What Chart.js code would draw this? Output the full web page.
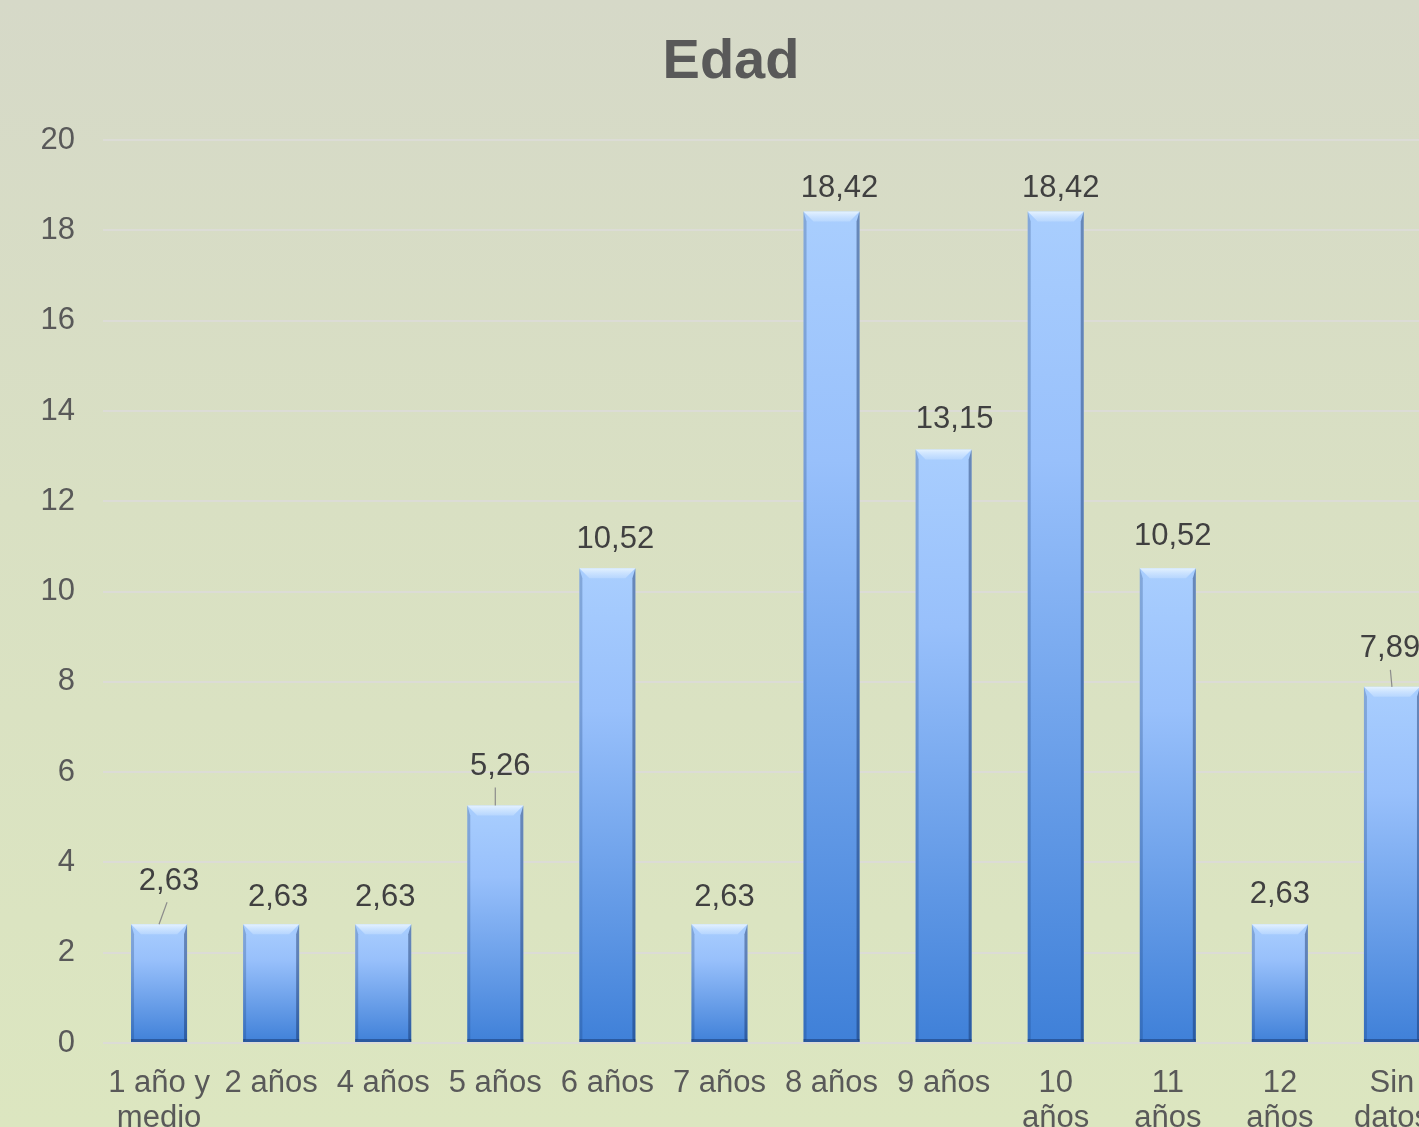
<!DOCTYPE html>
<html>
<head>
<meta charset="utf-8">
<script src="https://cdn.jsdelivr.net/npm/chart.js@4.4.1/dist/chart.umd.min.js"></script>
<style>
    html, body { margin: 0; padding: 0; overflow: hidden; }
    body { width: 1419px; height: 1127px; background: linear-gradient(#d6d9c8, #d9e0c3 45%, #dce6c0); }
    .chart-box { position: absolute; left: 0; top: 0; width: 1462px; height: 1150px; }
</style>
</head>
<body>
<div class="chart-box"><canvas id="edadChart"></canvas></div>
<script>
const categorias = [
    ['1 año y', 'medio'], '2 años', '4 años', '5 años', '6 años', '7 años',
    '8 años', '9 años', ['10', 'años'], ['11', 'años'], ['12', 'años'], ['Sin', 'datos']
];
const porcentajes = [2.63, 2.63, 2.63, 5.26, 10.52, 2.63, 18.42, 13.15, 18.42, 10.52, 2.63, 7.89];
const ticksY = [0, 2, 4, 6, 8, 10, 12, 14, 16, 18, 20];

// ajustes visuais das etiquetas (distância acima da barra, deslocamento x, linha guia)
const labelLift = [43, 27, 27, 39, 29, 27, 23, 30, 23, 32, 30, 38];
const labelShift = [10, 7, 2, 5, 8, 5, 8, 11, 5, 5, 0, -2];
const leaderLine = [true, false, false, true, false, false, false, false, false, false, false, true];

const FONT = '"Liberation Sans", Arial, sans-serif';

function barGradient(context) {
    const chart = context.chart;
    if (!chart.chartArea) return '#6e9fe8';
    const y = chart.scales.y;
    const top = y.getPixelForValue(context.raw);
    const base = y.getPixelForValue(0);
    const g = chart.ctx.createLinearGradient(0, top, 0, base);
    g.addColorStop(0, '#a9cefe');
    g.addColorStop(0.3, '#98c0fb');
    g.addColorStop(1, '#3f80d8');
    return g;
}

// efeito de chanfro nas barras
const bevelPlugin = {
    id: 'bevel',
    afterDatasetsDraw(chart) {
        const ctx = chart.ctx;
        chart.getDatasetMeta(0).data.forEach(bar => {
            const x0 = bar.x - bar.width / 2, x1 = bar.x + bar.width / 2;
            const y0 = bar.y, yb = bar.base;
            const b = Math.min(10, (yb - y0) / 3);
            ctx.save();
            // faceta superior
            const tg = ctx.createLinearGradient(0, y0, 0, y0 + b);
            tg.addColorStop(0, 'rgba(235,246,255,0.9)');
            tg.addColorStop(1, 'rgba(200,225,255,0.5)');
            ctx.fillStyle = tg;
            ctx.beginPath();
            ctx.moveTo(x0, y0); ctx.lineTo(x1, y0); ctx.lineTo(x1 - b, y0 + b); ctx.lineTo(x0 + b, y0 + b);
            ctx.closePath(); ctx.fill();
            // faceta esquerda
            ctx.fillStyle = 'rgba(20,55,110,0.25)';
            ctx.beginPath();
            ctx.moveTo(x0, y0); ctx.lineTo(x0 + 3, y0 + b); ctx.lineTo(x0 + 3, yb - 3); ctx.lineTo(x0, yb);
            ctx.closePath(); ctx.fill();
            // faceta direita
            ctx.fillStyle = 'rgba(15,40,90,0.42)';
            ctx.beginPath();
            ctx.moveTo(x1, y0); ctx.lineTo(x1 - 3, y0 + b); ctx.lineTo(x1 - 3, yb - 3); ctx.lineTo(x1, yb);
            ctx.closePath(); ctx.fill();
            // faceta inferior
            ctx.fillStyle = 'rgba(15,40,90,0.45)';
            ctx.fillRect(x0, yb - 3, bar.width, 3);
            ctx.restore();
        });
    }
};

// etiquetas de valor com vírgula decimal
const valueLabels = {
    id: 'valueLabels',
    afterDatasetsDraw(chart) {
        const ctx = chart.ctx;
        ctx.save();
        ctx.font = '31px ' + FONT;
        ctx.fillStyle = '#404040';
        ctx.textAlign = 'center';
        ctx.textBaseline = 'middle';
        chart.getDatasetMeta(0).data.forEach((bar, i) => {
            const tx = bar.x + labelShift[i];
            const ty = bar.y - labelLift[i];
            ctx.fillText(porcentajes[i].toFixed(2).replace('.', ','), tx, ty);
            if (leaderLine[i]) {
                ctx.strokeStyle = '#8c8c8c';
                ctx.lineWidth = 1.2;
                ctx.beginPath();
                ctx.moveTo(bar.x, bar.y);
                ctx.lineTo(bar.x + (i === 3 ? 0 : labelShift[i] * 0.8), ty + 21);
                ctx.stroke();
            }
        });
        ctx.restore();
    }
};

new Chart(document.getElementById('edadChart').getContext('2d'), {
    type: 'bar',
    data: {
        labels: categorias,
        datasets: [{
            label: 'Edad',
            data: porcentajes,
            backgroundColor: barGradient,
            borderWidth: 0,
            barPercentage: 0.5,
            categoryPercentage: 1.0
        }]
    },
    options: {
        responsive: true,
        maintainAspectRatio: false,
        animation: false,
        layout: { padding: { left: 14, right: 14, top: 0, bottom: 0 } },
        plugins: {
            legend: { display: false },
            tooltip: { enabled: false },
            title: {
                display: true,
                text: 'Edad',
                color: '#595959',
                font: { size: 56, weight: 'bold', family: FONT },
                padding: { top: 29, bottom: 44 }
            }
        },
        scales: {
            y: {
                min: 0,
                max: 20,
                afterFit: s => { s.width = 89; },
                afterBuildTicks: s => { s.ticks = ticksY.map(v => ({ value: v })); },
                border: { display: false },
                grid: { color: 'rgba(220,220,214,1)', lineWidth: 2, drawTicks: false },
                ticks: {
                    color: '#595959',
                    padding: 28,
                    font: { size: 31, family: FONT }
                }
            },
            x: {
                afterFit: s => { s.height = 107; },
                border: { display: false },
                grid: { display: false, drawTicks: false },
                ticks: {
                    color: '#595959',
                    padding: 23,
                    maxRotation: 0,
                    autoSkip: false,
                    font: { size: 31, family: FONT, lineHeight: 1.12 }
                }
            }
        }
    },
    plugins: [bevelPlugin, valueLabels]
});
</script>
</body>
</html>
